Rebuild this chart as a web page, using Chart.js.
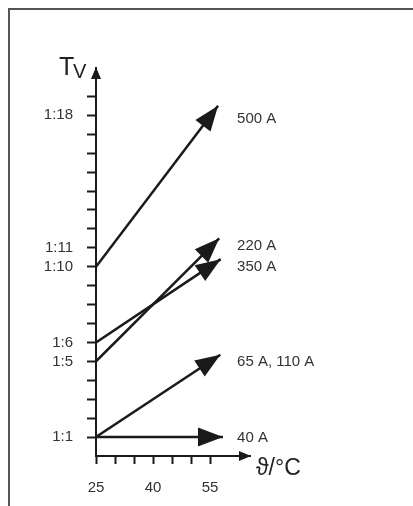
<!DOCTYPE html>
<html>
<head>
<meta charset="utf-8">
<script src="https://cdn.jsdelivr.net/npm/chart.js@4/dist/chart.umd.min.js"></script>
<style>
  html, body { margin: 0; padding: 0; background: #fff; }
  #wrap { position: relative; width: 413px; height: 506px; }
</style>
</head>
<body>
<div id="wrap"><canvas id="tvChart" width="413" height="506"></canvas></div>
<script>
// current ratings, start ratio at 25 °C, arrow end (temperature, ratio)
var seriesNames = ["500 A", "220 A", "350 A", "65 A, 110 A", "40 A"];
var startTv = [10, 5, 6, 1, 1];
var endTemp = [57.1, 57.4, 57.8, 57.7, 58.4];
var endTv = [18.5, 11.5, 10.4, 5.35, 1];
var labelTv = [17.8, 11.1, 10.0, 4.95, 0.95];
var labelTemp = 62.1;

var tempTicks = [25, 30, 35, 40, 45, 50, 55];
var tempTickLabels = {25: "25", 40: "40", 55: "55"};
var tvTicks = [1, 2, 3, 4, 5, 6, 7, 8, 9, 10, 11, 12, 13, 14, 15, 16, 17, 18, 19];
var tvTickLabels = {1: "1:1", 5: "1:5", 6: "1:6", 10: "1:10", 11: "1:11", 18: "1:18"};

var ink = "#1a1a1a";
var FONT = '"Liberation Sans", Arial, sans-serif';
Chart.defaults.font.family = FONT;
Chart.defaults.color = "#333";

var datasets = [];
for (var i = 0; i < seriesNames.length; i++) {
  datasets.push({
    label: seriesNames[i],
    data: [{x: 25, y: startTv[i]}, {x: endTemp[i], y: endTv[i]}],
    showLine: true,
    borderColor: ink,
    borderWidth: 2.5,
    pointRadius: 0,
    fill: false
  });
}

function head(ctx, x1, y1, x2, y2, len, half) {
  var a = Math.atan2(y2 - y1, x2 - x1);
  ctx.beginPath();
  ctx.moveTo(x2, y2);
  ctx.lineTo(x2 - len * Math.cos(a) + half * Math.sin(a), y2 - len * Math.sin(a) - half * Math.cos(a));
  ctx.lineTo(x2 - len * Math.cos(a) - half * Math.sin(a), y2 - len * Math.sin(a) + half * Math.cos(a));
  ctx.closePath();
  ctx.fill();
}

var decor = {
  id: "decor",
  beforeDraw: function (chart) {
    var ctx = chart.ctx;
    ctx.save();
    ctx.strokeStyle = "#555";
    ctx.lineWidth = 2;
    ctx.beginPath();
    ctx.moveTo(9, 506);
    ctx.lineTo(9, 9);
    ctx.lineTo(413, 9);
    ctx.stroke();
    ctx.restore();
  },
  afterDatasetsDraw: function (chart) {
    var ctx = chart.ctx;
    var xs = chart.scales.x, ys = chart.scales.y;
    ctx.save();
    ctx.fillStyle = ink;
    chart.data.datasets.forEach(function (ds, i) {
      var p = chart.getDatasetMeta(i).data;
      head(ctx, p[0].x, p[0].y, p[1].x, p[1].y, 25, 9.5);
    });
    // series labels
    ctx.fillStyle = "#333";
    ctx.font = "15px " + FONT;
    ctx.textAlign = "left";
    ctx.textBaseline = "middle";
    for (var i = 0; i < seriesNames.length; i++) {
      ctx.fillText(seriesNames[i], xs.getPixelForValue(labelTemp), ys.getPixelForValue(labelTv[i]));
    }
    // axis arrows
    var ca = chart.chartArea;
    ctx.fillStyle = ink;
    head(ctx, ca.left, ca.top + 20, ca.left, ca.top - 1, 12, 5);
    head(ctx, ca.right - 20, ca.bottom, ca.right + 1, ca.bottom, 12, 5);
    // axis titles
    ctx.fillStyle = "#222";
    ctx.textBaseline = "alphabetic";
    ctx.font = "25px " + FONT;
    ctx.fillText("T", ca.left - 37, ca.top + 7);
    ctx.font = "20px " + FONT;
    ctx.fillText("V", ca.left - 23, ca.top + 10);
    ctx.font = "23px " + FONT;
    ctx.fillText("\u03D1/\u00B0C", ca.right + 6, ca.bottom + 19);
    ctx.restore();
  }
};

new Chart(document.getElementById("tvChart"), {
  type: "scatter",
  data: {datasets: datasets},
  options: {
    responsive: false,
    animation: false,
    layout: {padding: {left: 0, right: 163, top: 68, bottom: 0}},
    plugins: {legend: {display: false}, tooltip: {enabled: false}},
    scales: {
      x: {
        type: "linear",
        min: 25,
        max: 65.5,
        afterBuildTicks: function (s) { s.ticks = tempTicks.map(function (v) { return {value: v}; }); },
        afterFit: function (s) { s.height = 50; },
        grid: {drawOnChartArea: false, drawTicks: true, tickLength: 8, tickWidth: 2, tickColor: ink},
        border: {display: true, color: ink, width: 2},
        ticks: {
          autoSkip: false, maxRotation: 0, padding: 15,
          font: {size: 15},
          callback: function (v) { return tempTickLabels[v] || ""; }
        }
      },
      y: {
        type: "linear",
        min: 0,
        max: 20.5,
        afterBuildTicks: function (s) { s.ticks = tvTicks.map(function (v) { return {value: v}; }); },
        afterFit: function (s) { s.width = 96; },
        grid: {drawOnChartArea: false, drawTicks: true, tickLength: 9, tickWidth: 2, tickColor: ink},
        border: {display: true, color: ink, width: 2},
        ticks: {
          autoSkip: false, padding: 14,
          font: {size: 15},
          callback: function (v) { return tvTickLabels[v] || ""; }
        }
      }
    }
  },
  plugins: [decor]
});
</script>
</body>
</html>
